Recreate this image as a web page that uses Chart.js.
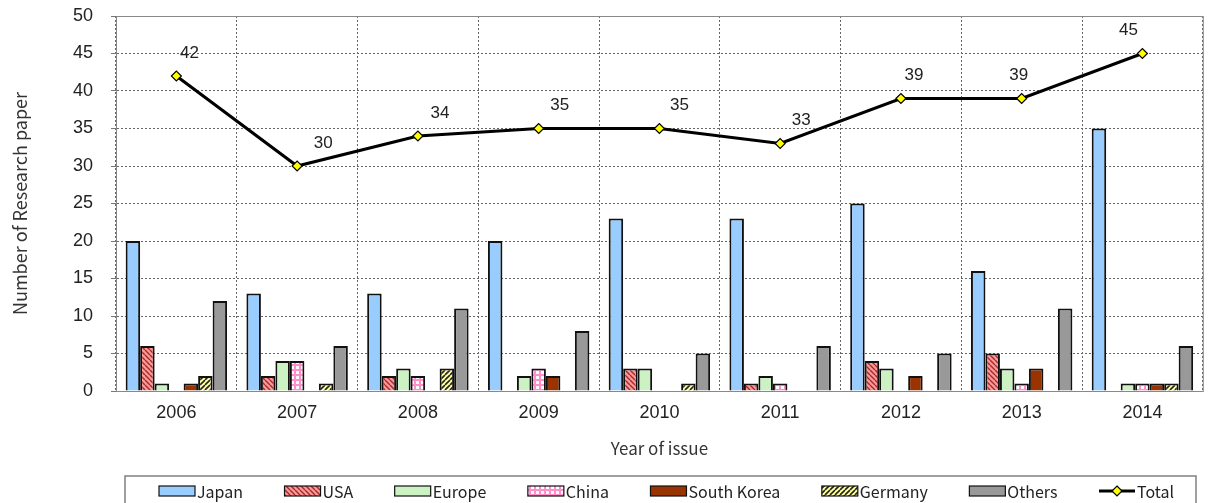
<!DOCTYPE html>
<html>
<head>
<meta charset="utf-8">
<script src="https://cdn.jsdelivr.net/npm/chart.js@4"></script>
<style>
  html, body { margin: 0; padding: 0; background: #fff; }
  #contenedor { width: 1209px; height: 503px; position: relative; }
</style>
</head>
<body>
<div id="contenedor"><canvas id="grafico"></canvas></div>
<script>
// Artículos por año y por país
const anios = ["2006", "2007", "2008", "2009", "2010", "2011", "2012", "2013", "2014"];
const japan = [20, 13, 13, 20, 23, 23, 25, 16, 35];
const usa = [6, 2, 2, 0, 3, 1, 4, 5, 0];
const europe = [1, 4, 3, 2, 3, 2, 3, 3, 1];
const china = [0, 4, 2, 3, 0, 1, 0, 1, 1];
const southKorea = [1, 0, 0, 2, 0, 0, 2, 3, 1];
const germany = [2, 1, 3, 0, 1, 0, 0, 0, 1];
const others = [12, 6, 11, 8, 5, 6, 5, 11, 6];
const total = [42, 30, 34, 35, 35, 33, 39, 39, 45];

// desplazamiento horizontal de cada etiqueta del total
const etiquetaDx = [13, 26, 22, 21, 20, 21, 13, -3, -14];

const fuenteNum = "'Liberation Sans', Arial, sans-serif";
const fuenteTxt = "'Noto Sans CJK JP', 'Noto Sans', sans-serif";

// Tramas para las barras rayadas
function trama(fondo, dibujar, t) {
    const c = document.createElement("canvas");
    c.width = t;
    c.height = t;
    const g = c.getContext("2d");
    g.fillStyle = fondo;
    g.fillRect(0, 0, t, t);
    dibujar(g, t);
    return g.createPattern(c, "repeat");
}

const tramaUsa = trama("#FF9999", (g, t) => {
    g.strokeStyle = "#A32A2A";
    g.lineWidth = 1.4;
    g.beginPath();
    [-t, 0, t].forEach(k => { g.moveTo(k, 0); g.lineTo(k + t, t); });
    g.stroke();
}, 5);

const tramaChina = trama("#FF8FCB", (g, t) => {
    g.fillStyle = "#FFFFFF";
    g.fillRect(1, 1, 3, 3);
}, 5);

const tramaGermany = trama("#FFFF99", (g, t) => {
    g.strokeStyle = "#222";
    g.lineWidth = 1.6;
    g.beginPath();
    [-t, 0, t].forEach(k => { g.moveTo(k, t); g.lineTo(k + t, 0); });
    g.stroke();
}, 5);

function barra(label, valores, fondo) {
    return {
        type: "bar",
        label: label,
        data: valores.map(v => v || null),
        backgroundColor: fondo,
        borderColor: "#111",
        borderWidth: 2,
        categoryPercentage: 0.84,
        barPercentage: 1.0,
        order: 1
    };
}

// Marco del área de trazado
const marco = {
    id: "marco",
    beforeDatasetsDraw(chart) {
        const { ctx, chartArea: a } = chart;
        ctx.save();
        ctx.strokeStyle = "#888";
        ctx.lineWidth = 1;
        ctx.strokeRect(a.left + 0.5, a.top + 0.5, a.right - a.left, a.bottom - a.top);
        ctx.restore();
    }
};

// Valores del total encima de cada punto
const etiquetas = {
    id: "etiquetas",
    afterDatasetsDraw(chart) {
        const ctx = chart.ctx;
        const idx = chart.data.datasets.findIndex(d => d.type === "line");
        const meta = chart.getDatasetMeta(idx);
        ctx.save();
        ctx.font = "17px " + fuenteNum;
        ctx.fillStyle = "#222";
        ctx.textAlign = "center";
        ctx.textBaseline = "middle";
        meta.data.forEach((p, i) => {
            ctx.fillText(String(total[i]), p.x + etiquetaDx[i], p.y - 23);
        });
        ctx.restore();
    }
};

// Leyenda en recuadro inferior
const leyenda = {
    id: "leyenda",
    afterDraw(chart) {
        const ctx = chart.ctx;
        const izq = 125, der = 1196, arriba = 476;
        ctx.save();
        ctx.strokeStyle = "#808080";
        ctx.lineWidth = 1.5;
        ctx.strokeRect(izq, arriba, der - izq, chart.height - arriba + 10);

        ctx.font = "16px " + fuenteTxt;
        const caja = 36, sep = 2;
        const items = chart.data.datasets.map(d => ({
            d: d,
            ancho: caja + sep + ctx.measureText(d.label).width
        }));
        const x0 = 159, x1 = 1174;
        const suma = items.reduce((s, it) => s + it.ancho, 0);
        const hueco = (x1 - x0 - suma) / (items.length - 1);
        const yc = 491;
        let x = x0;
        ctx.textBaseline = "middle";
        ctx.textAlign = "left";
        items.forEach(it => {
            const d = it.d;
            if (d.type === "line") {
                ctx.strokeStyle = "#000";
                ctx.lineWidth = 3;
                ctx.beginPath();
                ctx.moveTo(x, yc);
                ctx.lineTo(x + caja, yc);
                ctx.stroke();
                const cx = x + caja / 2, r = 5;
                ctx.beginPath();
                ctx.moveTo(cx, yc - r);
                ctx.lineTo(cx + r, yc);
                ctx.lineTo(cx, yc + r);
                ctx.lineTo(cx - r, yc);
                ctx.closePath();
                ctx.fillStyle = "#FFFF00";
                ctx.fill();
                ctx.lineWidth = 1.2;
                ctx.stroke();
            } else {
                ctx.fillStyle = d.backgroundColor;
                ctx.fillRect(x, yc - 5, caja, 10);
                ctx.strokeStyle = "#111";
                ctx.lineWidth = 1.2;
                ctx.strokeRect(x, yc - 5, caja, 10);
            }
            ctx.fillStyle = "#222";
            ctx.fillText(d.label, x + caja + sep, yc + 1);
            x += it.ancho + hueco;
        });
        ctx.restore();
    }
};

new Chart(document.getElementById("grafico"), {
    data: {
        labels: anios,
        datasets: [
            barra("Japan", japan, "#99CCFF"),
            barra("USA", usa, tramaUsa),
            barra("Europe", europe, "#CCF2C4"),
            barra("China", china, tramaChina),
            barra("South Korea", southKorea, "#993300"),
            barra("Germany", germany, tramaGermany),
            barra("Others", others, "#999999"),
            {
                type: "line",
                label: "Total",
                data: total,
                borderColor: "#000",
                borderWidth: 3,
                tension: 0,
                pointStyle: "rectRot",
                pointRadius: 5,
                pointBackgroundColor: "#FFFF00",
                pointBorderColor: "#000",
                pointBorderWidth: 1.2,
                order: 0
            }
        ]
    },
    options: {
        responsive: true,
        maintainAspectRatio: false,
        animation: false,
        layout: { padding: { top: 16, right: 0, bottom: 30, left: 0 } },
        plugins: {
            legend: { display: false },
            tooltip: { enabled: false }
        },
        scales: {
            x: {
                grid: { color: "#666", drawTicks: false, offset: true },
                border: { color: "#888", width: 1, dash: [2, 2] },
                ticks: {
                    color: "#222",
                    font: { family: fuenteNum, size: 18 },
                    padding: 11,
                    maxRotation: 0
                },
                title: {
                    display: true,
                    text: "Year of issue",
                    color: "#333",
                    font: { family: fuenteTxt, size: 17 },
                    padding: { top: 0, bottom: 14 }
                },
                afterFit: s => { s.height = 82; }
            },
            y: {
                min: 0,
                max: 50,
                grid: { color: "#666", tickLength: 5, tickColor: "#777", tickBorderDash: [] },
                border: { color: "#888", width: 1, dash: [2, 2] },
                ticks: {
                    stepSize: 5,
                    color: "#222",
                    font: { family: fuenteNum, size: 18 },
                    padding: 18
                },
                title: {
                    display: true,
                    text: "Number of Research paper",
                    color: "#333",
                    font: { family: fuenteTxt, size: 18 },
                    padding: { top: 9, bottom: 0 }
                },
                // ancho fijo y sin margen extra arriba/abajo
                afterFit: s => {
                    s.width = 116;
                    s.paddingTop = 0;
                    s.paddingBottom = 0;
                }
            }
        }
    },
    plugins: [marco, etiquetas, leyenda]
});
</script>
</body>
</html>
